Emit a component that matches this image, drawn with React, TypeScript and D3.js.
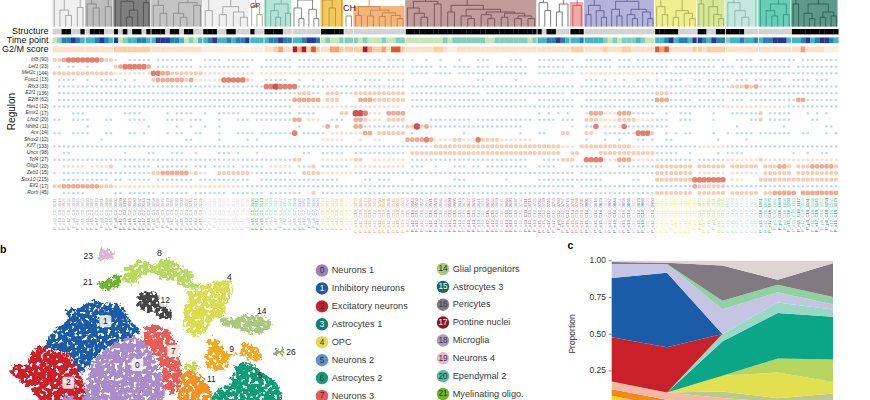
import React from 'react';
import * as d3 from 'd3';

type TreeNode = number | (number | TreeNode)[];

const colCount = 167;

const regulonNames = ['Irf8', 'Lef1', 'Mef2c', 'Foxc1', 'Rfx3', 'E2f1', 'E2f8', 'Hes1', 'Emx1', 'Lhx2', 'Nhlh1', 'Arx', 'Shox2', 'Klf7', 'Uncx', 'Tcf4', 'Olig2', 'Zeb1', 'Sox10', 'Elf1', 'Rorb'];
const regulonSizes = [90, 23, 144, 13, 33, 136, 62, 12, 17, 20, 11, 14, 12, 133, 98, 27, 20, 15, 215, 17, 45];

// one string per regulon, "column(s):level". level 1 is the blue dot, 2-6 run pale orange to red
const regulonLevels = [
  '0-1:3 2:4 3-9:5 10:4 11-12:3 13:1 16-20:1 22-29:1 32-35:1 37-42:1 45-50:1 52-59:1 60-62:1 64:1 65-69:1 71-74:1 76:1 79:1 82:1 86:1 90-92:1 97-99:1 103-109:1 110:1 113-118:1 120-122:1 124-127:1 128-136:1 137-142:1 145-148:1 150-156:1 157:1 159-166:1',
  '1:1 3:1 4:1 7:1 13:3 14:4 15-19:5 20:4 22-29:1 31-41:1 44-50:1 52-60:1 61-63:2 64-74:1 76-80:1 82-83:1 85-88:1 90-92:1 94-100:1 103-108:1 110-111:1 112-118:1 120-127:1 128-130:1 132-136:1 137-140:1 142-144:1 146-156:1 158-166:1',
  '0-12:3 13-20:2 21:5 22:5 23-24:4 25:3 26-31:3 32-42:2 44-51:2 52-74:2 76-79:1 81-84:1 86-100:1 103-110:1 112-127:2 128-166:1',
  '1-3:1 4:1 7:1 10-12:1 13:1 15:1 17:1 21:3 22-27:4 28:3 29:4 30:2 31-35:2 36-40:5 41:3 42:2 45-49:1 52:1 55:1 57:1 64:1 66-69:1 71-74:1 90-91:1 98:1 113-115:1 117:1 119:1 121:1 124-126:1 128:1 130-133:1 136-137:1 139-143:1 145-147:1 149-154:1 157-160:1 162-164:1',
  '1-44:1 45-46:5 47:6 48-51:5 52-74:1 76-110:1 112-143:1 144-146:3 147:4 148:3 149:4 150-166:1',
  '1-51:1 52-54:3 55-56:1 58-60:3 61-63:1 64-67:3 68-74:3 76-90:1 92-108:1 110-127:1 128-130:3 131-140:1 142-166:1',
  '1-50:1 51:4 52-56:4 58-60:3 65-67:4 68-74:3 76-100:1 103-110:1 113-127:1 128-130:4 131-135:1 137-142:1 144-146:1 148-157:1 158-159:4 160-166:1',
  '0-50:1 52-56:2 57-73:2 76-78:1 79-110:1 112-127:1 128-142:1 143-155:2 156-166:1',
  '4-6:1 15-18:1 24:1 26-27:1 28-29:1 32:1 35-39:1 42-50:1 52-55:1 61-62:3 64-65:6 66:5 67-69:2 71-74:4 103:1 105:1 107:1 109:1 113:2 114-116:4 117-119:2 120:4 121-122:4 123-127:1 130:1 133-135:1 140:1 144-149:1 150:3 152-156:1 160:1 162:1 164:1',
  '0-1:1 4-6:1 7:1 11-12:1 16-19:1 24-27:1 29-31:1 35:1 39-41:1 43-50:1 51-52:4 54-56:2 59-61:1 64-65:4 66:3 67-69:2 71-74:3 80-88:1 90-101:1 103-106:1 108-110:1 113-115:3 116-119:2 120-123:3 124-127:2 128-130:1 133-135:1 140:1 148:1 149-150:1 150:3 152-156:1 161-162:1',
  '7:1 20:1 26:1 29:1 32:1 35:1 52:1 57:2 58:4 60:3 64-65:4 66-74:1 75-76:3 77:6 78:3 79:4 80-99:1 110:2 113-114:1 115:5 117-120:2 121:5 122-127:1 128-130:1 145:1 155:1 164-165:1',
  '0-1:1 4-6:1 7:1 11-12:1 16:1 17:1 19:1 24:1 26-27:1 30-31:1 35:1 39-42:1 44-50:1 51:5 53-56:1 57:1 59-60:2 61-65:2 66-67:4 69-74:3 76:1 87:1 99:1 103-104:1 108-109:3 113-114:3 117-123:1 124-126:5 127:3 130:1 132:1 134-135:1 140:1 143:1 145-148:1 150-156:1 159-160:1 164:1 166:1',
  '10:1 28-29:1 35:1 41:1 43:1 57-61:2 65:2 68-69:2 75-78:4 79:5 80:4 81-84:2 85-86:3 87-89:2 90:5 91-93:3 94:3 95-101:2 113:1 117:1 120:1 124-125:1 127:1 130-131:1 141:1 147:1',
  '0-63:1 64-79:1 80:2 81-83:3 84-105:3 106-107:3 108-110:2 112-122:3 123-127:2 128-136:1 137-142:2 143-166:1',
  '2-3:1 15:1 20-21:1 25-27:1 30:1 35-37:1 39:1 43:1 53-54:1 57-61:1 64-74:1 76-102:3 103-107:3 110-111:3 116-127:3 128-132:1 135:1 141:1 143-146:1 157:1 160:1 163:1 164:1',
  '0-51:1 51-52:3 57-63:2 64-65:3 68-74:2 76-100:1 104-108:1 108-110:3 113-114:5 115-116:5 117-119:2 120-122:4 123-127:2 128-135:1 137-142:1 143-149:2 150:3 151-166:2',
  '2-6:2 8-11:2 12:3 15-20:1 22-28:1 30-32:1 34-38:1 40-44:1 46-50:2 52-54:1 55:3 57-62:1 64-74:2 76-78:1 81:1 85-87:1 89-90:1 92-100:1 103-106:1 110-116:1 120-127:1 128-135:3 137-142:3 144-149:3 151-153:3 154-155:4 156:3 158-160:3 161-165:4 166:3',
  '0:1 2-20:1 21-22:3 23-28:4 29:2 30:3 31-32:2 35-41:3 42:2 43-50:1 51:2 53-56:3 57-63:2 64-74:1 75-102:1 103-110:1 112-127:1 128-135:3 137-142:2 144-149:2 151-156:3 158-166:3',
  '2-11:1 13-14:1 16-20:1 22-29:1 31-34:1 35-41:1 44-50:1 51-60:1 66-67:1 69-71:1 76:1 85-87:1 96:1 103-112:1 113-116:1 123-124:1 128-135:3 136-142:5 144-146:2 150-166:3',
  '0-1:3 2-9:4 10-12:3 13-20:2 21-40:2 41-51:1 52-110:1 112-127:1 128-135:1 136:4 137-142:3 143-166:1',
  '2-6:1 13-14:1 16-21:1 23-28:1 30-36:1 38-44:1 46-52:1 55:3 57-110:1 112-127:1 128-135:3 137-142:3 144-149:3 151-152:3 153-157:4 159-166:4',
];

// structure strip: black columns
const structureBlack = '2-3 6 8-10 13 15 17 18 20 21-23 25-26 28-29 32-34 37-38 42 45-48 57-61 75-102 103 105-106 110-112 128-132 137-138 141-142 143-146 157-166';
// time point strip, level 1 (earliest) to 5 (latest)
const timeLevels = '0:1 1:2 2-3:4 4:5 5:4 6:3 7-8:3 9:4 10:5 11:4 12:3 13:5 14:1 15:2 16-17:3 18-19:4 20:3 21:3 22-24:5 25-26:4 27:3 28:1 29:2 30:1 31:3 32:3 33:4 34:5 35-36:3 37:4 38:3 39-40:4 41:5 42-44:3 45:3 46-47:4 48:5 49-50:4 51-52:3 53:4 54-55:5 56:4 57:1 58:2 59-60:1 61:2 62-63:2 64:2 65:1 66:2 67-69:1 70:2 71-72:1 73-74:2 75-82:1 83:2 84:1 85:2 86-91:2 92-93:1 94-100:2 101:1 102:2 103-104:3 105-106:4 107:5 108:4 109:3 110-111:3 112:4 113-116:3 117:2 118:1 119:2 120:1 121-123:2 124:3 125:2 126-127:1 128-129:3 130:4 131:5 132:3 133-134:4 135:3 136-137:5 138:4 139:3 140:5 141-142:4 143:2 144-145:3 146:4 147-148:3 149:4 150:3 151-152:4 153-155:5 156:3 157-158:3 159:4 160:5 161:3 162:4 163-164:5 165:4 166:3';
// G2/M strip, level 1 (low) to 6 (high)
const g2mLevels = '0-12:2 13-20:3 21-31:2 32-41:1 42-44:1 45-46:2 47:3 48:4 49-50:2 51:6 52:4 53:6 54:3 55:5 56:3 57-58:2 59-60:4 61:3 62-63:3 64-65:3 66:6 67:4 68-69:3 70:4 71:2 72-73:5 74:3 75-80:2 81-82:3 83:2 84-85:1 86-102:2 103-109:2 110-112:3 113-116:2 117:3 118-120:2 121-122:3 123-127:2 128:5 129:4 130:5 131-135:2 136-137:3 138:2 139-142:3 143-149:2 150-156:2 157-158:2 159:4 160-163:2 164-166:1';

const panelRanges: [number, number][] = [[0, 6], [7, 12], [13, 20], [21, 31], [32, 41], [42, 44], [45, 50], [51, 56], [57, 61], [62, 63], [64, 74], [75, 102], [103, 109], [110, 112], [113, 127], [128, 136], [137, 142], [143, 149], [150, 156], [157, 166]];
const panelFills = ['#f0f0f0', '#bdbdbd', '#7f7f7f', '#c4c4c4', '#f0f0f0', '#ffffff', '#b7e2d6', '#ffffff', '#f3c95e', '#ffffff', '#f5b47c', '#c29b9b', '#ffffff', '#f4a9a9', '#b5b2dc', '#eeee92', '#d7e698', '#c4e7de', '#67ceb5', '#5f9a88'];
const panelTops = [0, 0, 0, 0, 0, 0, 0, 0, 0, 0, 6, 0, 0, 2, 0, 0, 0, 0, 0, 0];
const treeStrokes = ['#8d8d8d', '#777777', '#444444', '#7c7c7c', '#8d8d8d', '#6d8d5e', '#5f9e8c', '#555555', '#a5852a', '#666666', '#b5763e', '#5d3c42', '#444444', '#a14c52', '#4a4a80', '#9c9c38', '#8c9c45', '#7ba79b', '#1f8a70', '#1f4f42'];
const labelInks = [['#b0b0b0'], ['#a0a0a0'], ['#808080'], ['#a0a0a0'], ['#e0d6da'], ['#48b058'], ['#80dcb8'], ['#88aadd'], ['#f5cd50'], ['#f8e8a0'], ['#f0a860', '#e88870'], ['#7a64b0', '#c85468', '#6c98d8', '#eb98a2'], ['#9284bc', '#b84e62'], ['#e86868'], ['#ecb4cc', '#7480c8', '#4068b8'], ['#eeee70'], ['#c0dc5c'], ['#b0e2d4'], ['#209a7c', '#50ccb0'], ['#20786a', '#50ccb0']];

const dendrograms: TreeNode[] = [
  [1.4, 0, [1.05, [0.62, 0, [0.42, 0, 0]], [0.72, 0, 0]]],
  [1.2, [0.85, 0, [0.7, 0, 0]], [0.75, 0, 0]],
  [1.3, [1.1, 0, [0.95, 0, [0.62, [0.36, 0, 0], 0]]], [0.9, 0, 0]],
  [1.2, [0.8, 0, [0.5, 0, 0]], [0.9, [0.5, 0, [0.35, 0, 0]], [0.8, 0, 0]]],
  [1.1, [0.6, 0, 0], [0.75, [0.45, 0, 0], [0.55, 0, [0.35, 0, 0]]]],
  [0.75, 0, [0.45, 0, 0]],
  [1.1, 0, [0.85, [0.6, 0, [0.35, 0, 0]], [0.5, 0, 0]]],
  [1.0, [0.7, 0, [0.3, 0, 0]], [0.65, 0, [0.3, 0, 0]]],
  [1.2, [1.0, 0, [0.7, 0, 0]], 0],
  [0.4, 0, 0],
  [0.75, [0.42, 0, 0], [0.62, [0.4, 0, 0], [0.52, [0.38, 0, 0], [0.42, 0, [0.3, 0, 0]]]]],
  [1.5, [0.95, [0.7, 0, [0.5, 0, [0.35, 0, 0]]], [0.85, 0, 0]], [0.8, [0.55, 0, 0], [0.65, [0.4, 0, [0.3, 0, 0]], [0.55, [0.45, 0, [0.3, 0, 0]], [0.5, [0.35, 0, 0], [0.4, [0.3, 0, 0], [0.3, 0, 0]]]]]]],
  [1.2, [0.9, 0, [0.6, 0, 0]], [0.85, [0.55, 0, 0], 0]],
  [0.8, 0, 0],
  [1.2, [0.8, [0.45, 0, 0], [0.6, 0, [0.35, 0, 0]]], [0.95, [0.65, 0, [0.4, 0, 0]], [0.65, [0.45, 0, [0.3, 0, 0]], [0.55, 0, [0.3, 0, 0]]]]],
  [1.2, [0.75, 0, [0.45, 0, 0]], [0.6, [0.35, 0, 0], [0.5, 0, [0.3, 0, 0]]]],
  [1.2, [0.85, 0, 0], [0.75, 0, [0.45, 0, [0.3, 0, 0]]]],
  [1.2, [0.9, 0, [0.6, 0, [0.35, 0, 0]]], 0],
  [1.1, 0, [0.85, [0.6, 0, [0.4, 0, 0]], [0.45, 0, 0]]],
  [1.2, [0.85, 0, 0], [0.85, [0.5, 0, [0.3, 0, 0]], [0.55, [0.35, 0, 0], [0.4, 0, 0]]]],
];
const stageNames = ['e11', 'e12', 'e13', 'e15', 'e17', 'p0'];

const strips = ['Structure', 'Time point', 'G2/M score'];
const timeColors = ['#c4e8b8', '#7fcfba', '#41b6c4', '#2480bd', '#26379a'];
const g2mColors = ['#fdeedd', '#fde0c5', '#fbcfa4', '#f6a26e', '#e4572e', '#b2182b'];
const dotColors = ['none', '#bdd9e8', '#fbe0cf', '#f9cbb1', '#f2a98f', '#e57f70', '#cf4f52'];
const dotRadii = [0, 1.25, 1.55, 2.1, 2.45, 2.8, 3.2];

// t-SNE clouds: outline of each cluster, in embedding units
const clusterIds = ['23', '8', '21', '4', '14', '12', '1', '2', '0', '0b', '7', '11', '6', '9', '10', '26'];
const clusterFills = ['#d8b8cf', '#b7da5b', '#6db52b', '#dadd4d', '#a9c97a', '#454545', '#1a5ca8', '#cc1f28', '#a98cc9', '#a98cc9', '#e85c55', '#f5921e', '#0f9d78', '#f5a81e', '#c4d84e', '#8fae66'];
const clusterOutlines: [number, number][][] = [
  [[295, 40], [305, 30], [320, 25], [335, 30], [345, 42], [335, 55], [315, 62], [298, 60]],
  [[370, 95], [400, 70], [440, 62], [465, 75], [490, 58], [520, 62], [550, 85], [580, 105], [575, 125], [602, 130], [595, 145], [552, 140], [530, 130], [510, 118], [480, 115], [465, 100], [440, 100], [420, 120], [390, 130], [375, 125]],
  [[290, 125], [320, 120], [350, 102], [365, 120], [350, 142], [320, 150], [295, 135]],
  [[610, 135], [650, 125], [692, 122], [695, 160], [680, 195], [670, 225], [640, 240], [620, 270], [580, 290], [560, 270], [550, 210], [570, 180], [555, 150], [590, 150]],
  [[670, 230], [700, 235], [730, 225], [770, 228], [815, 245], [805, 270], [770, 280], [730, 272], [690, 262], [665, 250]],
  [[415, 170], [440, 155], [470, 158], [480, 180], [505, 205], [515, 230], [490, 240], [470, 220], [440, 218], [420, 200]],
  [[195, 210], [240, 205], [275, 180], [310, 190], [345, 190], [375, 210], [390, 240], [420, 272], [390, 292], [330, 320], [280, 360], [240, 400], [215, 350], [170, 330], [135, 320], [175, 260], [205, 240]],
  [[135, 320], [165, 335], [210, 350], [240, 400], [255, 440], [272, 490], [130, 490], [90, 445], [40, 405], [35, 380], [80, 370], [100, 330]],
  [[390, 292], [440, 310], [470, 370], [490, 410], [482, 490], [258, 490], [265, 420], [270, 380], [330, 320]],
  [[180, 490], [200, 462], [232, 490]],
  [[440, 260], [490, 260], [530, 310], [540, 360], [545, 410], [535, 455], [510, 460], [490, 440], [490, 400], [470, 350], [440, 310], [430, 280]],
  [[550, 395], [590, 395], [620, 430], [640, 490], [540, 490], [545, 430]],
  [[640, 490], [650, 455], [690, 430], [710, 375], [750, 370], [790, 400], [830, 430], [842, 490]],
  [[625, 300], [650, 295], [680, 340], [720, 335], [735, 310], [770, 320], [785, 355], [750, 360], [720, 345], [690, 350], [680, 385], [640, 390], [615, 370], [625, 330]],
  [[555, 380], [590, 368], [600, 385], [560, 390]],
  [[826, 325], [838, 330], [850, 325], [848, 348], [838, 342], [826, 350]],
];
const clusterTags = ['0', '1', '2', '7', '12', '11', '9', '6', '4', '8', '14', '21', '23', '26'];
const clusterTagX = [412, 316, 205, 520, 496, 634, 695, 780, 688, 478, 785, 263, 265, 873];
const clusterTagY = [375, 244, 428, 333, 182, 418, 327, 407, 113, 40, 213, 127, 48, 338];
const taggedBoxes = ['0', '1', '2', '7', '12'];

const legendLeftIds = [0, 1, 2, 3, 4, 5, 6, 7];
const legendLeftNames = ['Neurons 1', 'Inhibitory neurons', 'Excitatory neurons', 'Astrocytes 1', 'OPC', 'Neurons 2', 'Astrocytes 2', 'Neurons 3'];
const legendLeftColors = ['#9b7fc0', '#1a5ca8', '#c8202a', '#137f6a', '#dedc50', '#5b92cc', '#0f9d78', '#e45c55'];
const legendRightIds = [14, 15, 16, 17, 18, 19, 20, 21];
const legendRightNames = ['Glial progenitors', 'Astrocytes 3', 'Pericytes', 'Pontine nuclei', 'Microglia', 'Neurons 4', 'Ependymal 2', 'Myelinating oligo.'];
const legendRightColors = ['#a8c878', '#0f6a5e', '#807a85', '#8c1522', '#a79abf', '#e6b5cf', '#4fbb9b', '#6db52b'];
const legendWhiteText = [1, 3, 15, 17];

// stacked proportions, bottom layer first, five time points
const stageSteps = [0, 1, 2, 3, 4];
const layerColors = ['#ffd21e', '#f08a1e', '#f4b9a4', '#bcc88e', '#e3e04f', '#b5d55e', '#0ba588', '#98d8c5', '#c9202a', '#1a5ca8', '#c5c5e3', '#8fd1a0', '#817a80', '#ddd5d5'];
const layerValues = [
  [0.081, 0.009, 0.009, 0.004, 0.006],
  [0.045, 0.045, 0.034, 0.023, 0.023],
  [0.052, 0.05, 0.023, 0.011, 0.023],
  [0, 0, 0.045, 0.027, 0.045],
  [0, 0, 0.106, 0.176, 0.079],
  [0, 0, 0, 0.095, 0.154],
  [0, 0, 0.233, 0.312, 0.294],
  [0, 0, 0.052, 0.072, 0.05],
  [0.301, 0.308, 0, 0, 0],
  [0.403, 0.507, 0, 0, 0],
  [0.095, 0.059, 0.167, 0.07, 0.034],
  [0, 0, 0.059, 0.05, 0.052],
  [0.014, 0.009, 0.24, 0.034, 0.231],
  [0.009, 0.014, 0.032, 0.131, 0.018],
];
const proportionTicks = [0.25, 0.5, 0.75, 1];

const expand = (spec: string, n = colCount): number[] => {
  const out = new Array(n).fill(0);
  spec.trim().split(/\s+/).forEach((tok) => {
    const [range, level] = tok.split(':');
    const [a, b] = range.split('-').map(Number);
    for (let i = a; i <= (b ?? a); i++) out[i] = level === undefined ? 1 : +level;
  });
  return out;
};

const sans = '"Liberation Sans", Arial, sans-serif';

const Dendrogram: React.FC<{ tree: TreeNode; range: [number, number]; stroke: string; y: d3.ScaleLinear<number, number> }> = ({ tree, range, stroke, y }) => {
  const root = d3.hierarchy<TreeNode>(tree, (d) => (Array.isArray(d) ? (d.slice(1) as TreeNode[]) : null));
  const leaves = root.leaves();
  const leafX = d3.scalePoint<number>().domain(d3.range(leaves.length)).range(range).padding(0.35);
  const xOf = new Map<any, number>();
  leaves.forEach((l, i) => xOf.set(l, leafX(i)!));
  root.eachAfter((n) => {
    if (n.children) xOf.set(n, (xOf.get(n.children[0])! + xOf.get(n.children[n.children.length - 1])!) / 2);
  });
  const h = (n: d3.HierarchyNode<TreeNode>) => (Array.isArray(n.data) ? (n.data[0] as number) : 0);
  const path = d3.path();
  root.descendants().forEach((n) => {
    if (!n.children) return;
    n.children.forEach((c) => {
      path.moveTo(xOf.get(n)!, y(h(n)));
      path.lineTo(xOf.get(c)!, y(h(n)));
      path.lineTo(xOf.get(c)!, y(h(c)));
    });
  });
  // stem above the root runs off the top of the page, except for the small CH pair
  if (h(root) > 0.5) {
    path.moveTo(xOf.get(root)!, y(h(root)));
    path.lineTo(xOf.get(root)!, 0);
  }
  return <path d={path.toString()} fill="none" stroke={stroke} strokeWidth={0.7} />;
};

export default function App() {
  const x = d3.scaleLinear().domain([0, colCount - 1]).range([54.5, 836]);
  const cell = x(1) - x(0);
  const rowY = d3.scalePoint<string>().domain(regulonNames).range([60, 193]);
  const treeY = d3.scaleLinear().domain([0, 1]).range([26.6, 0]);
  const edgeL = (c: number) => x(c) - cell / 2;
  const edgeR = (c: number) => x(c) + cell / 2;

  const structure = expand(structureBlack);
  const time = expand(timeLevels);
  const g2m = expand(g2mLevels);
  const panelOf = d3.range(colCount).map((c) => panelRanges.findIndex(([a, b]) => c >= a && c <= b));

  const tx = d3.scaleLinear().domain([0, 900]).range([0, 300]);
  const ty = d3.scaleLinear().domain([0, 480]).range([240, 400]);
  const outline = d3.line<[number, number]>().x((d) => tx(d[0])).y((d) => ty(d[1])).curve(d3.curveCatmullRomClosed.alpha(0.5));

  const legendLeftY = d3.scalePoint<number>().domain(legendLeftIds).range([270.5, 396]);
  const legendRightY = d3.scalePoint<number>().domain(legendRightIds).range([269, 394]);

  const px = d3.scalePoint<number>().domain(stageSteps).range([611.7, 833]);
  const py = d3.scaleLinear().domain([0, 1]).range([407.7, 260.7]);
  const stacked = d3.stack<number>().keys(d3.range(layerValues.length).map(String))
    .value((s, k) => layerValues[+k][s]).offset(d3.stackOffsetExpand)(stageSteps);
  const area = d3.area<any>().x((d) => px(d.data)!).y0((d) => py(d[0])).y1((d) => py(d[1]));

  const legendItem = (id: number, name: string, color: string, cx: number, cy: number) => (
    <g key={id}>
      <circle cx={cx} cy={cy} r={6.2} fill={color} />
      <text x={cx} y={cy + 0.3} textAnchor="middle" dominantBaseline="middle" fontSize={8.2} fill={legendWhiteText.includes(id) ? '#ffffff' : '#333333'}>{id}</text>
      <text x={cx + 9.7} y={cy + 0.3} dominantBaseline="middle" fontSize={9.2} fill="#3a3a3a">{name}</text>
    </g>
  );

  return (
    <svg width={870} height={400} viewBox="0 0 870 400" fontFamily={sans} style={{ position: 'absolute', left: 0, top: 0, background: '#ffffff' }}>
      <defs>
        <filter id="speck" x="-5%" y="-5%" width="110%" height="110%" colorInterpolationFilters="sRGB">
          <feTurbulence type="fractalNoise" baseFrequency="0.27" numOctaves="2" seed="4" result="noise" />
          <feDisplacementMap in="SourceGraphic" in2="noise" scale="10" xChannelSelector="R" yChannelSelector="G" result="rough" />
          <feColorMatrix in="noise" type="matrix" values="0 0 0 0 0  0 0 0 0 0  0 0 0 0 0  12 0 0 0 -3.9" result="mask" />
          <feComposite in="rough" in2="mask" operator="in" />
        </filter>
        <filter id="soft"><feGaussianBlur stdDeviation="0.3" /></filter>
      </defs>

      {/* dendrogram panels */}
      <g>
        {panelRanges.map(([a, b], i) => (
          <rect key={i} x={edgeL(a)} y={panelTops[i]} width={edgeR(b) - edgeL(a) - 0.8} height={treeY(0) - panelTops[i]} fill={panelFills[i]} />
        ))}
        {dendrograms.map((t, i) => (
          <Dendrogram key={i} tree={t} range={[edgeL(panelRanges[i][0]), edgeR(panelRanges[i][1])]} stroke={treeStrokes[i]} y={treeY} />
        ))}
        <text x={250} y={7.5} fontSize={7} fill="#222222">GP</text>
        <text x={343} y={11} fontSize={9} fill="#222222">CH</text>
      </g>

      {/* annotation strips */}
      <g>
        {d3.range(colCount).map((c) => (
          <g key={c}>
            <rect x={edgeL(c)} y={29} width={cell + 0.2} height={5.4} fill={structure[c] ? '#000000' : '#d2d2d2'} />
            <rect x={edgeL(c)} y={37.5} width={cell + 0.2} height={5.6} fill={timeColors[Math.max(time[c] - 1, 0)]} />
            <rect x={edgeL(c)} y={46.5} width={cell + 0.2} height={5.8} fill={g2mColors[Math.max(g2m[c] - 1, 0)]} />
          </g>
        ))}
        {panelRanges.map(([a], i) => (
          <rect key={i} x={edgeL(a) - 0.4} y={28} width={0.8} height={25} fill="#ffffff" />
        ))}
        {strips.map((s, i) => (
          <text key={s} x={48.5} y={[32, 40.5, 49.5][i]} textAnchor="end" dominantBaseline="middle" fontSize={9} fill="#111111">{s}</text>
        ))}
      </g>

      {/* regulon dot matrix */}
      <g filter="url(#soft)">
        {regulonLevels.map((spec, r) => {
          const levels = expand(spec);
          return levels.map((lv, c) => (lv ? (
            <circle key={`${r}-${c}`} cx={x(c)} cy={rowY(regulonNames[r])} r={dotRadii[lv]} fill={dotColors[lv]} />
          ) : null));
        })}
      </g>
      <g>
        {regulonNames.map((n, r) => (
          <text key={n} x={48.5} y={rowY(n)} textAnchor="end" dominantBaseline="middle" fontSize={5} fill="#333333">
            <tspan fontStyle="italic">{n}</tspan> ({regulonSizes[r]})
          </text>
        ))}
        <text transform="translate(12,111.5) rotate(-90)" textAnchor="middle" dominantBaseline="middle" fontSize={10} fill="#111111">Regulon</text>
      </g>

      {/* column labels */}
      <g>
        {d3.range(colCount).map((c) => {
          const p = panelOf[c];
          const inks = labelInks[p < 0 ? 0 : p];
          return (
            <text key={c} transform={`translate(${x(c) + 1.3},198) rotate(-90)`} textAnchor="end" fontSize={4.3} fill={inks[c % inks.length]}>
              {`P_${stageNames[time[c]]}_C${p}_${String(c * 7 + 11).padStart(4, '0')}`}
            </text>
          );
        })}
      </g>

      {/* panel b */}
      <text x={0} y={253} fontSize={10.5} fontWeight="bold" fill="#000000">b</text>
      <g filter="url(#speck)">
        {clusterOutlines.map((pts, i) => (
          <path key={clusterIds[i]} d={outline(pts)!} fill={clusterFills[i]} />
        ))}
      </g>
      <g>
        {clusterTags.map((t, i) => {
          const cx = tx(clusterTagX[i]);
          const cy = ty(clusterTagY[i]);
          return (
            <g key={t}>
              {taggedBoxes.includes(t) && <rect x={cx - 6} y={cy - 6} width={12} height={12} rx={2} fill="#ffffff" opacity={0.82} />}
              <text x={cx} y={cy + 0.3} textAnchor="middle" dominantBaseline="middle" fontSize={8.5} fill="#222222">{t}</text>
            </g>
          );
        })}
      </g>

      {/* legend */}
      <g>
        {legendLeftIds.map((id, i) => legendItem(id, legendLeftNames[i], legendLeftColors[i], 322, legendLeftY(id)!))}
        {legendRightIds.map((id, i) => legendItem(id, legendRightNames[i], legendRightColors[i], 443, legendRightY(id)!))}
      </g>

      {/* panel c */}
      <text x={567.5} y={249} fontSize={10.5} fontWeight="bold" fill="#000000">c</text>
      <g>
        {stacked.map((s, i) => (
          <path key={i} d={area(s as any)!} fill={layerColors[i]} />
        ))}
        {proportionTicks.map((t) => (
          <g key={t}>
            <line x1={608.5} x2={611.7} y1={py(t)} y2={py(t)} stroke="#444444" strokeWidth={0.6} />
            <text x={606} y={py(t) + 0.2} textAnchor="end" dominantBaseline="middle" fontSize={8.5} fill="#333333">{d3.format('.2f')(t)}</text>
          </g>
        ))}
        <text transform="translate(573,334) rotate(-90)" textAnchor="middle" dominantBaseline="middle" fontSize={8.5} fill="#333333">Proportion</text>
      </g>
    </svg>
  );
}
